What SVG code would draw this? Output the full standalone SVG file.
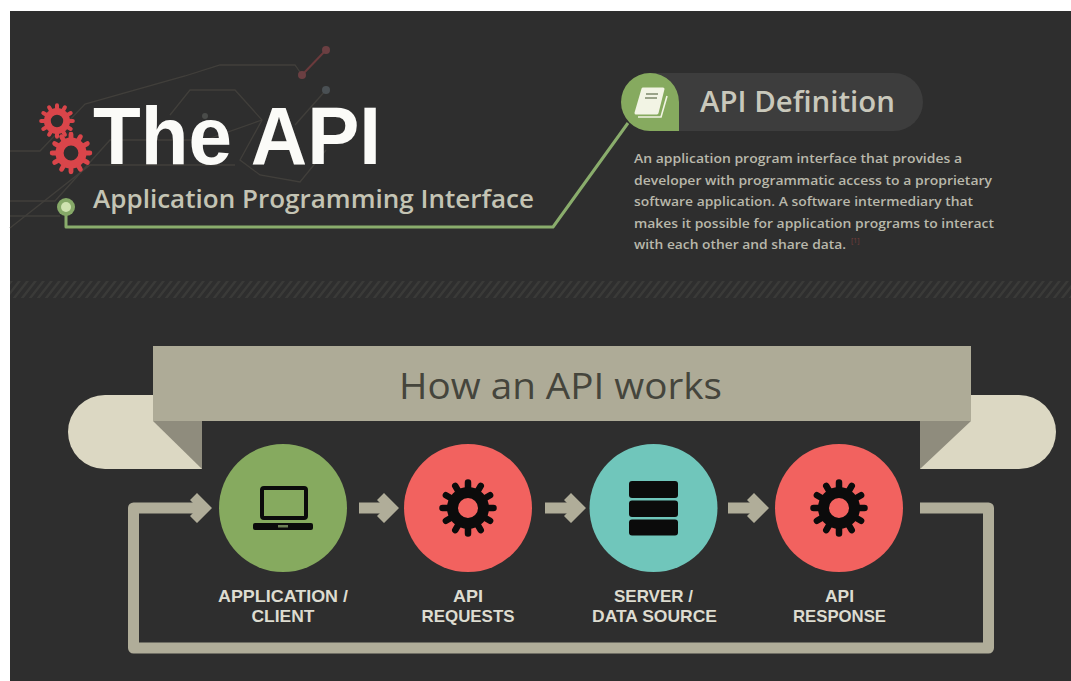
<svg xmlns="http://www.w3.org/2000/svg" width="1071" height="681" viewBox="0 0 1071 681">
<style>
text{font-family:"Open Sans","Liberation Sans",sans-serif}
.title{font-family:"Liberation Sans",Arial,sans-serif;font-weight:700;fill:#fbfbf8}
.sub{font-weight:600;fill:#c4c4b4}
.head{font-weight:600;fill:#c9c8bb}
.body{font-size:13px;font-weight:600;fill:#b9b8ab}
.label{font-family:"Liberation Sans",Arial,sans-serif;font-size:17px;font-weight:700;fill:#dddcd0;text-anchor:middle}
.flow{fill:none;stroke:#b0ad99;stroke-width:11;stroke-linejoin:round}
.circuit{fill:none;stroke:#413f3b;stroke-width:1.3}
.link{fill:none;stroke:#8aad6c;stroke-width:3;stroke-linejoin:round}
.ink{fill:#0b0b0b}
</style>
<defs>
<pattern id="hatch" width="8" height="17" patternUnits="userSpaceOnUse" patternTransform="translate(10 281) skewX(-38)">
<rect x="0" y="0" width="3" height="17" fill="#3a3a38"/>
</pattern>
<marker id="head" markerUnits="userSpaceOnUse" viewBox="0 0 22 30" markerWidth="22" markerHeight="30" refX="12" refY="15" orient="auto">
<path d="M22 15L7 0L0 7L8 15L0 23L7 30Z" fill="#b0ad99"/>
</marker>
<g id="gear">
<path fill="none" stroke="currentColor" stroke-width="6.500" stroke-linecap="round" d="M0-20V-25.500M10-17.320L12.750-22.080M17.320-10L22.080-12.750M20 0H25.500M17.320 10L22.080 12.750M10 17.320L12.750 22.080M0 20V25.500M-10 17.320L-12.750 22.080M-17.320 10L-22.080 12.750M-20 0H-25.500M-17.320-10L-22.080-12.750M-10-17.320L-12.750-22.080"/>
<circle r="15.500" fill="none" stroke="currentColor" stroke-width="11"/>
</g>
</defs>
<rect width="1071" height="681" fill="#ffffff"/>
<rect x="10" y="11" width="1061" height="670" fill="#2e2e2e"/>
<rect x="10" y="281" width="1061" height="17" fill="url(#hatch)"/>

<g id="circuit-decoration">
<path class="circuit" d="M10 151H40L85 104L185 76L220 65H295L302 75"/>
<path class="circuit" d="M170 115L190 90H235L262 120L240 160L260 175L300 182L326 150"/>
<path class="circuit" d="M10 201H55L110 140H205L262 120"/>
<path class="circuit" d="M10 228L90 165H235"/>
<path class="circuit" d="M10 216H60"/>
<path class="circuit" d="M295 125L326 90"/>
<path d="M302 75L326 50" fill="none" stroke="#6b3a3c" stroke-width="2"/>
<circle cx="302" cy="75" r="4" fill="#6b3f42"/>
<circle cx="326" cy="50" r="4" fill="#6b3f42"/>
<circle cx="326" cy="90" r="4" fill="#4a5054"/>
<circle cx="205" cy="116" r="3" fill="#4a4c4a"/>
</g>

<g id="title">
<use href="#gear" color="#d9454a" transform="translate(57 121) scale(.62)"/>
<use href="#gear" color="#d9454a" transform="translate(71 153) scale(.74)"/>
<text class="title" x="93" y="163.500" font-size="82" textLength="288" lengthAdjust="spacingAndGlyphs">The API</text>
<text class="sub" x="93" y="207.500" font-size="25" textLength="441" lengthAdjust="spacingAndGlyphs">Application Programming Interface</text>
</g>

<g id="connectors">
<path class="link" d="M66 207V227H553L628 123"/>
<path class="flow" d="M920 508H988.500V648H133.500V508H202" marker-end="url(#head)"/>
<path class="flow" d="M359 508H389" marker-end="url(#head)"/>
<path class="flow" d="M545 508H576" marker-end="url(#head)"/>
<path class="flow" d="M728 508H759" marker-end="url(#head)"/>
</g>

<g id="start-dot">
<circle cx="66" cy="207" r="9" fill="#86a968"/>
<circle cx="66" cy="207" r="5" fill="#cfe3b0"/>
</g>

<g id="api-definition">
<path d="M650 73H894a29 29 0 0 1 0 58H650Z" fill="#3d3d3d"/>
<path d="M650 73a29 29 0 0 1 29 29V131H650a29 29 0 0 1 0-58Z" fill="#86aa5f"/>
<path d="M643 89H663L657 113H636Z" fill="#f2f4e4" stroke="#f2f4e4" stroke-width="3" stroke-linejoin="round"/>
<path d="M646 94H658M645 98H657" stroke="#9aa389" stroke-width="2" fill="none"/>
<path d="M667 96L661 117H638" stroke="#f2f4e4" stroke-width="1.600" fill="none"/>
<text class="head" x="700" y="112" font-size="29" textLength="195" lengthAdjust="spacingAndGlyphs">API Definition</text>
<text class="body" x="634" y="163" textLength="328" lengthAdjust="spacingAndGlyphs">An application program interface that provides a</text>
<text class="body" x="634" y="185" textLength="358" lengthAdjust="spacingAndGlyphs">developer with programmatic access to a proprietary</text>
<text class="body" x="634" y="206" textLength="339" lengthAdjust="spacingAndGlyphs">software application. A software intermediary that</text>
<text class="body" x="634" y="228" textLength="360" lengthAdjust="spacingAndGlyphs">makes it possible for application programs to interact</text>
<text class="body" x="634" y="249" textLength="212" lengthAdjust="spacingAndGlyphs">with each other and share data.</text>
<text x="851" y="243" font-size="7" fill="#7a3f3d">[1]</text>
</g>

<g id="banner">
<path d="M202 395H105a37 37 0 0 0 0 74H202Z" fill="#dcd8c3"/>
<path d="M920 395H1019a37 37 0 0 1 0 74H920Z" fill="#dcd8c3"/>
<path d="M153 421H202V469Z" fill="#8f8c7d"/>
<path d="M971 421H920V469Z" fill="#8f8c7d"/>
<rect x="153" y="346" width="818" height="75" fill="#aeab97"/>
<text x="399" y="399" font-size="37" fill="#45453c" textLength="323" lengthAdjust="spacingAndGlyphs">How an API works</text>
</g>

<g id="node-client">
<circle cx="283" cy="508" r="64" fill="#86aa5f"/>
<rect x="262" y="488" width="44" height="30" rx="2" fill="none" stroke="#0b0b0b" stroke-width="4"/>
<rect class="ink" x="253" y="523" width="60" height="7" rx="2"/>
<rect x="278" y="525" width="10" height="2.500" fill="#6d7f55"/>
<text class="label" x="283" y="602" textLength="130" lengthAdjust="spacingAndGlyphs">APPLICATION /</text>
<text class="label" x="283" y="622" textLength="63" lengthAdjust="spacingAndGlyphs">CLIENT</text>
</g>

<g id="node-requests">
<circle cx="468" cy="508" r="64" fill="#f2625f"/>
<use href="#gear" color="#0b0b0b" transform="translate(468 508)"/>
<text class="label" x="468" y="602" textLength="30" lengthAdjust="spacingAndGlyphs">API</text>
<text class="label" x="468" y="622" textLength="93" lengthAdjust="spacingAndGlyphs">REQUESTS</text>
</g>

<g id="node-server">
<circle cx="653.500" cy="508" r="64" fill="#70c6bb"/>
<rect class="ink" x="629" y="481" width="49" height="17" rx="3"/>
<rect class="ink" x="629" y="500.500" width="49" height="16.500" rx="3"/>
<rect class="ink" x="629" y="519.500" width="49" height="16" rx="3"/>
<text class="label" x="653.500" y="602" textLength="79" lengthAdjust="spacingAndGlyphs">SERVER /</text>
<text class="label" x="654.500" y="622" textLength="125" lengthAdjust="spacingAndGlyphs">DATA SOURCE</text>
</g>

<g id="node-response">
<circle cx="839" cy="508" r="64" fill="#f2625f"/>
<use href="#gear" color="#0b0b0b" transform="translate(839 508)"/>
<text class="label" x="839.500" y="602" textLength="29" lengthAdjust="spacingAndGlyphs">API</text>
<text class="label" x="839.500" y="622" textLength="93" lengthAdjust="spacingAndGlyphs">RESPONSE</text>
</g>
</svg>
